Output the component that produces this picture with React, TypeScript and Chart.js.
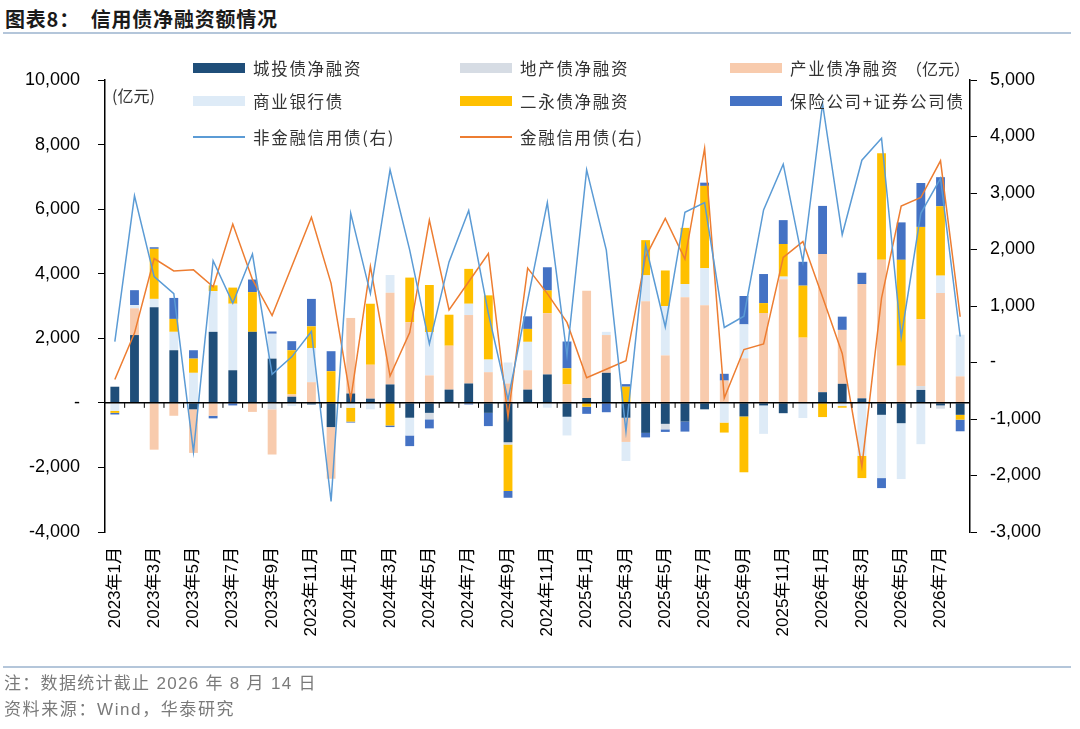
import { useEffect, useRef } from "react";
import { Chart, registerables } from "chart.js";

Chart.register(...registerables);

const months: string[] = [];
for (const y of [2023, 2024, 2025, 2026]) {
  const last = y === 2026 ? 8 : 12;
  for (let m = 1; m <= last; m++) months.push(`${y}年${m}月`);
}

// 亿元, left axis
const chengtou = [
  500, 2100, 2960, 1630, -200, 2200, 1010, 2200, 1370, 190, -50, -750,
  290, 130, 570, -460, -310, 410, 600, -310, -1220, 410, 880, -430,
  150, 930, -460, -930, -650, -580, -200, 0, -420, -80, -320, 0,
  330, 590, 140, -370, -630, 400, -80, -370,
];
const dichan = [
  0, 0, 0, 0, 0, 0, 0, 0, -200, 0, 0, 0,
  0, 0, 0, 0, -200, 0, 0, 0, -70, 0, 0, 0,
  0, 0, 0, 0, -170, 0, 0, 0, 0, 0, 0, 0,
  0, 0, 0, 0, 0, 120, -100, 0,
];
const chanye = [
  0, 830, -1450, -400, -1350, -400, 0, -280, -1400, 70, 640, -1600,
  2340, 1050, 2840, 2500, 850, 1360, 2120, 950, 600, 600, 1900, 570,
  3320, 1170, -750, 3150, 1470, 3270, 3020, 690, 1380, 2780, 3830, 2020,
  4280, 1670, 3540, 4430, 1150, 2070, 3400, 820,
];
const shangyin = [
  -250, 100, 260, 570, 930, 1260, 2060, 0, 770, -100, 1060, 0,
  -150, -200, 550, -550, 1340, 0, 350, 390, 650, 880, -150, -580,
  0, 100, -590, 800, 1530, 410, 1150, -610, 1050, -880, 80, -470,
  0, -100, -1640, -1960, -1730, -1280, 540, 1290,
];
const eryong = [
  -60, 0, 1550, 400, 440, 180, 500, 1230, 0, 1370, 670, 980,
  -430, 1890, -700, 1380, 1460, 960, 1080, 1990, -1440, 400, 700, 500,
  -120, 0, 500, 1090, 1100, 1740, 2550, -310, -1730, 310, 1010, 1610,
  -440, -50, -690, 3300, 3280, 2860, 2150, -150,
];
const baoxian = [
  -50, 460, 50, 650, 260, -80, -80, 390, 70, 280, 850, 620,
  -30, 0, -50, -330, -280, 0, -50, -410, -210, 390, 720, 830,
  -220, -290, 80, -140, -80, -310, 100, 210, 880, 900, 740, 740,
  1490, 410, 350, -310, 1160, 1360, 900, -360,
];
// 亿元, right axis
const feijinrong = [
  370, 2950, 1520, 1220, -1580, 1800, 1050, 1920, -210, 100, 550, -2460,
  2640, 1220, 3410, 1990, 330, 1780, 2690, 870, -660, 1100, 2830, 130,
  3410, 1990, -1220, 2080, 630, 2660, 2830, 620, 820, 2700, 3510, 1780,
  4580, 2260, 3580, 3970, 450, 2640, 3260, 460,
];
const jinrong = [
  -300, 520, 1840, 1620, 1640, 1340, 2450, 1470, 830, 1700, 2570, 1400,
  -650, 1700, -240, 530, 2520, 930, 1430, 1930, -960, 1670, 1220, 710,
  -270, -120, 30, 1870, 2550, 1830, 3790, -630, 230, 330, 1860, 2140,
  1160, 160, -1840, 1140, 2770, 2920, 3570, 810,
];

const C_NAVY = "#1F4E79";
const C_GRAY = "#D6DCE4";
const C_PEACH = "#F8CBAD";
const C_LIGHT = "#DEEBF7";
const C_YELLOW = "#FFC000";
const C_BLUE = "#4472C4";
const C_LINE_BLUE = "#5B9BD5";
const C_LINE_ORANGE = "#ED7D31";

const TICK_FONT = "'Liberation Sans', Arial, 'Noto Sans CJK SC', sans-serif";
const CJK_FONT = "'Noto Sans CJK SC', 'Liberation Sans', sans-serif";
const NOTE_FONT = "'Liberation Sans', 'Noto Sans CJK SC', sans-serif";

const zeroLine = {
  id: "zeroLine",
  afterDatasetsDraw(chart: any) {
    const { ctx, chartArea, scales } = chart;
    const y = scales.y.getPixelForValue(0);
    const xs = scales.x;
    ctx.save();
    ctx.strokeStyle = "#000";
    ctx.lineWidth = 1.5;
    ctx.beginPath();
    ctx.moveTo(chartArea.left, y);
    ctx.lineTo(chartArea.right, y);
    ctx.stroke();
    ctx.lineWidth = 1;
    ctx.beginPath();
    for (let i = 0; i < months.length - 1; i++) {
      const px = (xs.getPixelForValue(i) + xs.getPixelForValue(i + 1)) / 2;
      ctx.moveTo(px, y);
      ctx.lineTo(px, y + 5);
    }
    ctx.stroke();
    ctx.restore();
  },
};

const boxItems = [
  { label: "城投债净融资", color: C_NAVY, x: 193, y: 68 },
  { label: "地产债净融资", color: C_GRAY, x: 460, y: 68 },
  { label: "产业债净融资", color: C_PEACH, x: 730, y: 68 },
  { label: "商业银行债", color: C_LIGHT, x: 193, y: 101 },
  { label: "二永债净融资", color: C_YELLOW, x: 460, y: 101 },
  { label: "保险公司+证券公司债", color: C_BLUE, x: 730, y: 101 },
];
const lineItems = [
  { label: "非金融信用债(右)", color: C_LINE_BLUE, x: 193, y: 137 },
  { label: "金融信用债(右)", color: C_LINE_ORANGE, x: 460, y: 137 },
];

function CreditChart() {
  const canvasRef = useRef<HTMLCanvasElement>(null);

  useEffect(() => {
    const ctx = canvasRef.current?.getContext("2d");
    if (!ctx) return;

    const bar = (label: string, data: number[], color: string) => ({
      type: "bar" as const,
      label,
      data,
      backgroundColor: color,
      borderWidth: 0,
      yAxisID: "y",
      order: 1,
      barPercentage: 0.45,
      categoryPercentage: 1,
    });
    const line = (label: string, data: number[], color: string) => ({
      type: "line" as const,
      label,
      data,
      borderColor: color,
      backgroundColor: color,
      borderWidth: 1.5,
      pointRadius: 0,
      tension: 0,
      yAxisID: "y1",
      order: 0,
    });

    const chart = new Chart(ctx, {
      type: "bar",
      data: {
        labels: months,
        datasets: [
          bar("城投债净融资", chengtou, C_NAVY),
          bar("地产债净融资", dichan, C_GRAY),
          bar("产业债净融资", chanye, C_PEACH),
          bar("商业银行债", shangyin, C_LIGHT),
          bar("二永债净融资", eryong, C_YELLOW),
          bar("保险公司+证券公司债", baoxian, C_BLUE),
          line("非金融信用债(右)", feijinrong, C_LINE_BLUE),
          line("金融信用债(右)", jinrong, C_LINE_ORANGE),
        ] as any,
      },
      options: {
        responsive: true,
        maintainAspectRatio: false,
        animation: false,
        layout: { padding: { top: 80, left: 0, right: 0, bottom: 0 } },
        plugins: {
          legend: { display: false },
          tooltip: { enabled: false },
        },
        scales: {
          x: {
            stacked: true,
            grid: { display: false, drawTicks: false },
            border: { display: false },
            ticks: {
              autoSkip: false,
              maxRotation: 90,
              minRotation: 90,
              padding: 15,
              color: "#000",
              font: { family: TICK_FONT, size: 17 },
              callback: (_v: any, i: number) => (i % 2 === 0 ? months[i] : ""),
            },
            afterFit: (s: any) => {
              s.height = 729 - 532;
            },
          },
          y: {
            position: "left",
            stacked: true,
            min: -4000,
            max: 10000,
            grid: { drawOnChartArea: false, drawTicks: true, tickLength: 7, color: "#000" },
            border: { display: true, color: "#000", width: 1.5 },
            ticks: {
              stepSize: 2000,
              padding: 18,
              color: "#000",
              font: { family: TICK_FONT, size: 18 },
              callback: (v: any) => (v === 0 ? "-" : Number(v).toLocaleString("en-US")),
            },
            afterFit: (s: any) => {
              s.width = 105;
            },
          },
          y1: {
            position: "right",
            stacked: false,
            min: -3000,
            max: 5000,
            grid: { drawOnChartArea: false, drawTicks: true, tickLength: 7, color: "#000" },
            border: { display: true, color: "#000", width: 1.5 },
            ticks: {
              stepSize: 1000,
              padding: 13,
              color: "#000",
              font: { family: TICK_FONT, size: 18 },
              callback: (v: any) => (v === 0 ? "-" : Number(v).toLocaleString("en-US")),
            },
            afterFit: (s: any) => {
              s.width = 110;
            },
          },
        },
      },
      plugins: [zeroLine],
    });

    return () => {
      chart.destroy();
    };
  }, []);

  return (
    <div style={{ position: "absolute", left: 0, top: 0, width: 1080, height: 729 }}>
      <canvas ref={canvasRef} />
    </div>
  );
}

export default function App() {
  const text = { position: "absolute" as const, whiteSpace: "nowrap" as const };
  const legendText = {
    ...text,
    fontSize: 16.5,
    lineHeight: "24px",
    letterSpacing: 1.7,
    color: "#333",
  };
  return (
    <div
      style={{
        position: "absolute",
        left: 0,
        top: 0,
        width: 1080,
        height: 729,
        background: "#fff",
        overflow: "hidden",
        fontFamily: CJK_FONT,
      }}
    >
      <div
        style={{
          ...text,
          left: 5,
          top: 4,
          fontSize: 20,
          fontWeight: 700,
          letterSpacing: 0.8,
          color: "#1a1a1a",
        }}
      >
        图表8：&nbsp;&nbsp;信用债净融资额情况
      </div>
      <div style={{ position: "absolute", left: 3, top: 32, width: 1068, height: 2, background: "#B4C6DA" }} />

      <CreditChart />

      {boxItems.map((it) => (
        <div key={it.label}>
          <div
            style={{
              position: "absolute",
              left: it.x,
              top: it.y - 5,
              width: 52,
              height: 10,
              background: it.color,
            }}
          />
          <div style={{ ...legendText, left: it.x + 60, top: it.y - 12 }}>{it.label}</div>
        </div>
      ))}
      {lineItems.map((it) => (
        <div key={it.label}>
          <div
            style={{
              position: "absolute",
              left: it.x,
              top: it.y - 1,
              width: 52,
              height: 2,
              background: it.color,
            }}
          />
          <div style={{ ...legendText, left: it.x + 60, top: it.y - 12 }}>{it.label}</div>
        </div>
      ))}
      <div style={{ ...text, left: 112, top: 83, fontSize: 16, lineHeight: "24px", color: "#333" }}>(亿元)</div>
      <div style={{ ...text, left: 906, top: 56, fontSize: 16, lineHeight: "24px", color: "#333" }}>（亿元）</div>

      <div style={{ position: "absolute", left: 3, top: 666, width: 1068, height: 2, background: "#B4C6DA" }} />
      <div
        style={{
          ...text,
          left: 4,
          top: 672,
          fontSize: 17,
          lineHeight: "24px",
          letterSpacing: 1.3,
          color: "#7a7a7a",
          fontFamily: NOTE_FONT,
        }}
      >
        注：数据统计截止 2026 年 8 月 14 日
      </div>
      <div
        style={{
          ...text,
          left: 4,
          top: 698,
          fontSize: 17,
          lineHeight: "24px",
          letterSpacing: 1.6,
          color: "#7a7a7a",
          fontFamily: NOTE_FONT,
        }}
      >
        资料来源：Wind，华泰研究
      </div>
    </div>
  );
}
